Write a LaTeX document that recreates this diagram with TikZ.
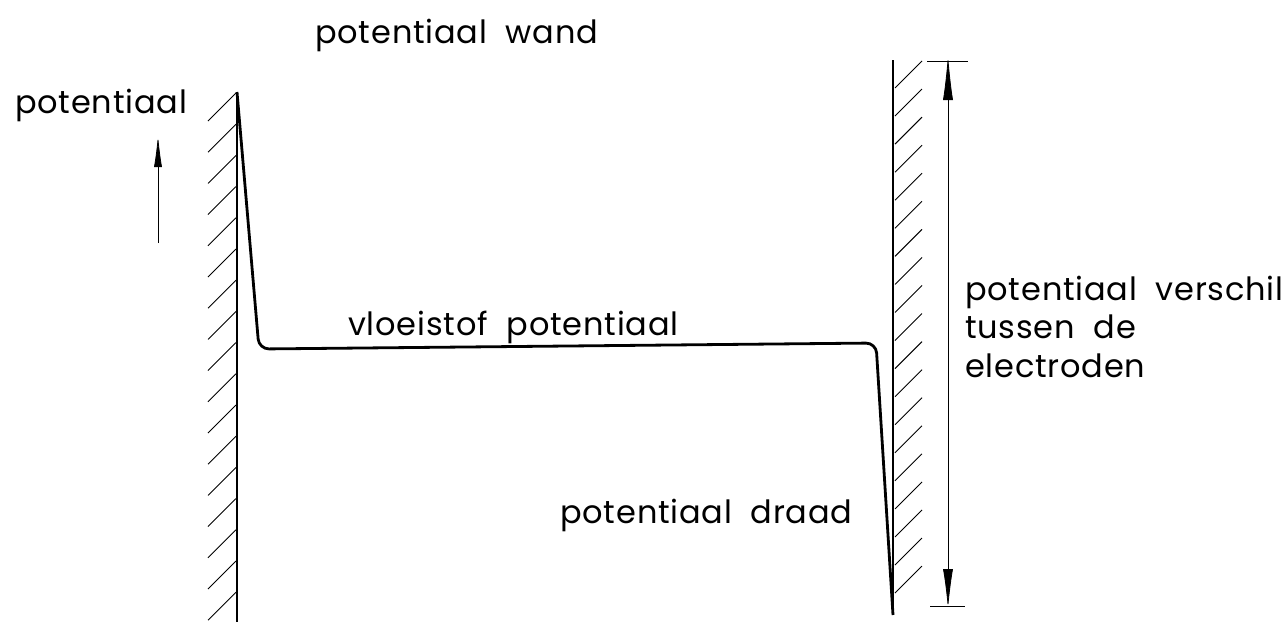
\documentclass[tikz,border=0pt]{standalone}
\usepackage{fontspec}
\setmainfont{Poppins}[LetterSpace=2.5,WordSpace=2]
\usetikzlibrary{arrows.meta}
\begin{document}
\begin{tikzpicture}[x=1pt,y=-1pt,
  wall/.style={line width=2.4pt},
  wire/.style={line width=2.8pt, line join=round, rounded corners=10pt},
  hatch/.style={line width=0.9pt},
  dim/.style={line width=0.8pt},
  lbl/.style={inner sep=0pt, anchor=base west, font=\fontsize{32}{38}\selectfont}]
\useasboundingbox (0,0) rectangle (1288,622);
% labels
\node[lbl] (wand) at (315,43) {potentiaal wand};
\node[lbl] (pot) at (15,113) {potentiaal};
\node[lbl] (vloei) at (348,335) {vloeistof potentiaal};
\node[lbl] (draad) at (560,523) {potentiaal draad};
\node[lbl] (v1) at (965,300) {potentiaal verschil};
\node[lbl] (v2) at (965,338) {tussen de};
\node[lbl] (v3) at (965,377) {electroden};
% left wall
\coordinate (Lt) at (237,92);
\coordinate (Lb) at (237,622);
\draw[wall] (Lt) -- (Lb);
\foreach \k in {0,...,16} \draw[hatch] (236,{93+31.2*\k}) -- ++(-28,28);
% right wall
\coordinate (Rt) at (893,60);
\coordinate (Rb) at (893,612);
\draw[wall] (Rt) -- (Rb);
\foreach \k in {0,...,18} \draw[hatch] (895,{88+28.06*\k}) -- ++(27,-27);
% potential curve
\coordinate (c1) at (259,349);
\coordinate (c2) at (876,343);
\coordinate (tip) at (893,615);
\draw[wire] (Lt) -- (c1) -- (c2) -- (tip);
% dimension arrow
\coordinate (dt) at (948,61);
\coordinate (db) at (948,606);
\draw[dim] ([xshift=-21pt]dt) -- ([xshift=20pt]dt);
\draw[dim] ([xshift=-18pt]db) -- ([xshift=17pt]db);
\draw[dim, {Latex[length=45pt,width=10pt]}-{Latex[length=40pt,width=10pt]}] ([yshift=6pt]dt) -- ([yshift=-3pt]db);
% small axis arrow
\coordinate (a0) at (158,243);
\coordinate (a1) at (158,135);
\draw[dim, -{Latex[length=32pt,width=8pt]}] (a0) -- (a1);
\end{tikzpicture}
\end{document}
